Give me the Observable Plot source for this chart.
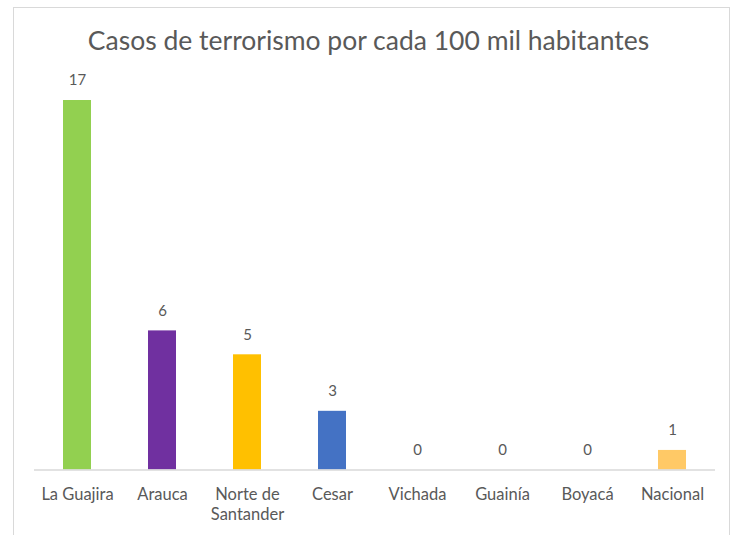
<!DOCTYPE html>
<html>
<head>
<meta charset="utf-8">
<script src="https://cdn.jsdelivr.net/npm/d3@7"></script>
<script src="https://cdn.jsdelivr.net/npm/@observablehq/plot@0.6"></script>
<style>
  html, body { margin: 0; padding: 0; background: #ffffff; }
  body { width: 737px; height: 535px; position: relative; overflow: hidden; font-family: Lato, "Open Sans", sans-serif; }
  #frame { position: absolute; left: 13px; top: 7px; width: 717px; height: 560px; border: 1px solid #d9d9d9; box-sizing: border-box; }
  #title { position: absolute; left: 0; top: 0; width: 737px; height: 70px; text-align: center; font-family: Lato, sans-serif; font-size: 26.5px; color: #595959; line-height: 70px; padding-top: 5px; box-sizing: border-box; }
  #chart { position: absolute; left: 0; top: 70px; }
</style>
</head>
<body>
<div id="frame"></div>
<div id="title">Casos de terrorismo por cada 100 mil habitantes</div>
<div id="chart"></div>
<script>
const categories = ["La Guajira", "Arauca", "Norte de Santander", "Cesar", "Vichada", "Guainía", "Boyacá", "Nacional"];
const tickLabels = ["La Guajira", "Arauca", "Norte de\nSantander", "Cesar", "Vichada", "Guainía", "Boyacá", "Nacional"];
const values = [17.0, 6.4, 5.3, 2.7, 0, 0, 0, 0.9];
const colors = ["#92d050", "#7030a0", "#ffc000", "#4472c4", "#a5a5a5", "#5b9bd5", "#70ad47", "#ffc966"];

const data = categories.map((c, i) => ({cat: c, value: values[i], color: colors[i], label: d3.format(".0f")(values[i])}));
const labelOf = new Map(categories.map((c, i) => [c, tickLabels[i]]));

const chart = Plot.plot({
  width: 737,
  height: 465,
  marginLeft: 34,
  marginRight: 22,
  marginTop: 30,
  marginBottom: 65.5,
  style: {fontFamily: "Lato, sans-serif", color: "#595959", background: "transparent"},
  x: {domain: categories, paddingInner: 0.67, paddingOuter: 0.335},
  y: {domain: [0, 17], axis: null},
  marks: [
    Plot.barY(data, {x: "cat", y: "value", fill: "color"}),
    Plot.ruleY([0], {stroke: "#d9d9d9", strokeWidth: 1.5}),
    Plot.text(data, {x: "cat", y: "value", text: "label", dy: -20, fill: "#595959", fontSize: 15}),
    Plot.axisX({tickSize: 0, tickPadding: 15, lineAnchor: "top", lineHeight: 1.24, fontSize: 16.5, fill: "#595959", tickFormat: d => labelOf.get(d), label: null})
  ]
});
document.getElementById("chart").appendChild(chart);
</script>
</body>
</html>
